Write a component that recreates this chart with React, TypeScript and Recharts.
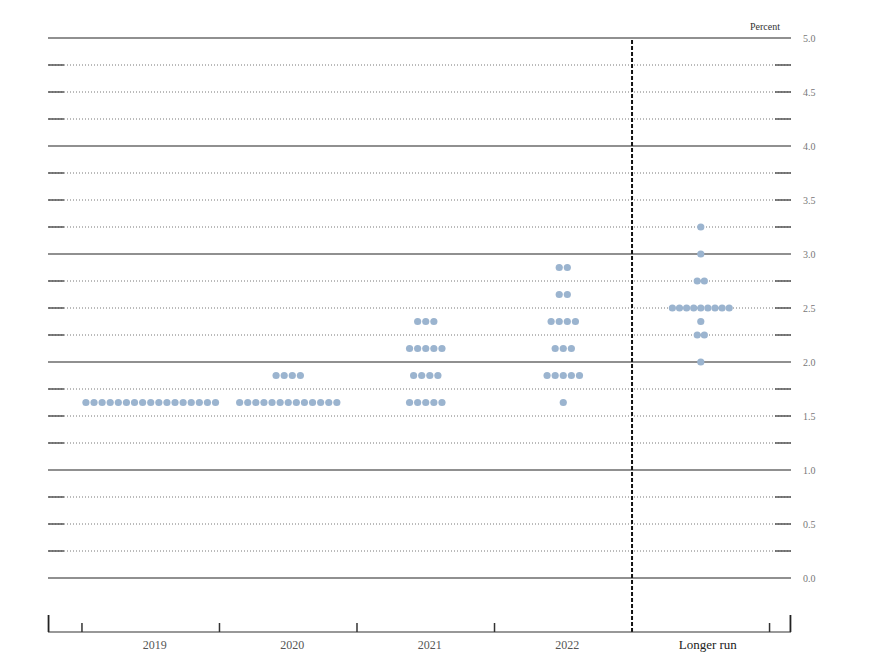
import React from "react";
import {
  ScatterChart,
  Scatter,
  XAxis,
  YAxis,
  ReferenceLine,
} from "recharts";

const categories = ["2019", "2020", "2021", "2022", "Longer run"];

// [rate, number of participants]
const dots2019 = [[1.625, 17]];
const dots2020 = [[1.625, 13], [1.875, 4]];
const dots2021 = [[1.625, 5], [1.875, 4], [2.125, 5], [2.375, 3]];
const dots2022 = [[1.625, 1], [1.875, 5], [2.125, 3], [2.375, 4], [2.625, 2], [2.875, 2]];
const dotsLongerRun = [[2.0, 1], [2.25, 2], [2.375, 1], [2.5, 9], [2.75, 2], [3.0, 1], [3.25, 1]];

const yTicks = [0, 0.5, 1, 1.5, 2, 2.5, 3, 3.5, 4, 4.5, 5];
const gridLevels = [
  0, 0.25, 0.5, 0.75, 1, 1.25, 1.5, 1.75, 2, 2.25, 2.5, 2.75,
  3, 3.25, 3.5, 3.75, 4, 4.25, 4.5, 4.75, 5,
];
const bandEdges = [-0.5, 0.5, 1.5, 2.5, 4.5];

const X_MIN = -0.747;
const X_MAX = 4.656;
const Y_MIN = -0.5;
const Y_MAX = 5;
const PX_X = 137.5;
const PX_Y = 108;

const allDots = [dots2019, dots2020, dots2021, dots2022, dotsLongerRun];
const spacing = [8.1, 8.1, 8.1, 8.1, 7.1];

const points = allDots.flatMap((rows, i) =>
  rows.flatMap(([rate, count]) =>
    Array.from({ length: count }, (_, k) => ({
      x: i + ((k - (count - 1) / 2) * spacing[i]) / PX_X,
      y: rate,
    }))
  )
);

const Dot = (props: any) => (
  <circle cx={props.cx} cy={props.cy} r={3.6} fill="#9bb4cf" />
);

const XTick = (props: any) => {
  const { x, y, payload } = props;
  const label = categories[payload.value];
  const longer = payload.value === 4;
  return (
    <text
      x={x + (longer ? 7 : 4)}
      y={y + 11}
      textAnchor="middle"
      fill={longer ? "#222" : "#555"}
      fontSize={longer ? 13 : 12}
      fontFamily="'Liberation Serif', serif"
    >
      {label}
    </text>
  );
};

export default function App() {
  const stub = 16 / PX_X;
  return (
    <div style={{ position: "relative", width: 858, height: 650 }}>
      <div
        style={{
          position: "absolute",
          left: 742,
          top: 13,
          fontSize: 10,
          fontFamily: "'Liberation Serif', serif",
          color: "#333",
        }}
      >
        Percent
      </div>
      <ScatterChart
        width={858}
        height={650}
        margin={{ top: 30, right: 15, bottom: 0, left: 40 }}
      >
        <XAxis
          type="number"
          dataKey="x"
          domain={[X_MIN, X_MAX]}
          allowDataOverflow
          ticks={[0, 1, 2, 3, 4]}
          interval={0}
          tickLine={false}
          tickMargin={0}
          height={26}
          axisLine={{ stroke: "#333", strokeWidth: 1.2 }}
          tick={<XTick />}
        />
        <YAxis
          type="number"
          dataKey="y"
          orientation="right"
          domain={[Y_MIN, Y_MAX]}
          allowDataOverflow
          ticks={yTicks}
          interval={0}
          axisLine={false}
          tickLine={false}
          tickMargin={6}
          width={60}
          tickFormatter={(v: number) => v.toFixed(1)}
          tick={{ fill: "#777", fontSize: 10, fontFamily: "'Liberation Serif', serif" }}
        />
        {gridLevels.map((lv) =>
          Number.isInteger(lv) ? (
            <ReferenceLine
              key={"g" + lv}
              y={lv}
              stroke="#222"
              strokeWidth={1.2}
            />
          ) : (
            <ReferenceLine
              key={"g" + lv}
              y={lv}
              stroke="#777"
              strokeWidth={1}
              strokeDasharray="1 2"
            />
          )
        )}
        {gridLevels
          .filter((lv) => !Number.isInteger(lv))
          .map((lv) => (
            <ReferenceLine
              key={"sl" + lv}
              segment={[
                { x: X_MIN, y: lv },
                { x: X_MIN + stub, y: lv },
              ]}
              stroke="#555"
              strokeWidth={1.5}
            />
          ))}
        {gridLevels
          .filter((lv) => !Number.isInteger(lv))
          .map((lv) => (
            <ReferenceLine
              key={"sr" + lv}
              segment={[
                { x: X_MAX - stub, y: lv },
                { x: X_MAX, y: lv },
              ]}
              stroke="#555"
              strokeWidth={1.5}
            />
          ))}
        {bandEdges.map((e) => (
          <ReferenceLine
            key={"t" + e}
            segment={[
              { x: e, y: Y_MIN },
              { x: e, y: Y_MIN + 9 / PX_Y },
            ]}
            stroke="#333"
            strokeWidth={1.5}
          />
        ))}
        {[X_MIN + 0.004, X_MAX - 0.004].map((e) => (
          <ReferenceLine
            key={"end" + e}
            segment={[
              { x: e, y: Y_MIN },
              { x: e, y: Y_MIN + 17 / PX_Y },
            ]}
            stroke="#222"
            strokeWidth={1.8}
          />
        ))}
        <ReferenceLine
          segment={[
            { x: 3.5, y: Y_MIN },
            { x: 3.5, y: Y_MAX },
          ]}
          stroke="#111"
          strokeWidth={2}
          strokeDasharray="4 2"
        />
        <Scatter data={points} shape={<Dot />} isAnimationActive={false} />
      </ScatterChart>
    </div>
  );
}
